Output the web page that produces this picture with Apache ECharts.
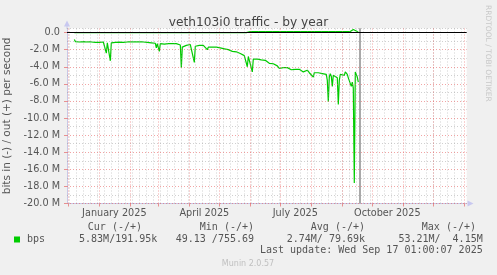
<!DOCTYPE html>
<html><head><meta charset="utf-8">
<script src="https://cdn.jsdelivr.net/npm/echarts@6/dist/echarts.min.js"></script>
<style>html,body{margin:0;padding:0;background:#f0f0f0}#c{width:497px;height:275px}</style>
</head><body><div id="c"></div><script>
// ---- data (values in M bits/s; in = negative, out = positive) ----
const dates = ['2024-12-07','2024-12-08','2024-12-10','2024-12-12','2024-12-14','2024-12-16','2024-12-18','2024-12-20','2024-12-22','2024-12-24','2024-12-26','2024-12-28','2024-12-30',
'2025-01-01','2025-01-03','2025-01-05','2025-01-07','2025-01-08','2025-01-09','2025-01-11','2025-01-12','2025-01-13','2025-01-15','2025-01-17','2025-01-19','2025-01-21','2025-01-23','2025-01-25','2025-01-27','2025-01-29','2025-01-31',
'2025-02-02','2025-02-04','2025-02-06','2025-02-08','2025-02-10','2025-02-12','2025-02-14','2025-02-16','2025-02-18','2025-02-20','2025-02-22','2025-02-24','2025-02-26','2025-02-27','2025-02-28',
'2025-03-02','2025-03-03','2025-03-05','2025-03-07','2025-03-09','2025-03-11','2025-03-13','2025-03-15','2025-03-17','2025-03-19','2025-03-21','2025-03-23','2025-03-24','2025-03-25','2025-03-27','2025-03-29','2025-03-31',
'2025-04-02','2025-04-04','2025-04-06','2025-04-07','2025-04-09','2025-04-11','2025-04-13','2025-04-15','2025-04-17','2025-04-19','2025-04-20','2025-04-22','2025-04-24','2025-04-26','2025-04-28','2025-04-30',
'2025-05-02','2025-05-04','2025-05-06','2025-05-08','2025-05-10','2025-05-12','2025-05-14','2025-05-16','2025-05-18','2025-05-20','2025-05-22','2025-05-24','2025-05-26','2025-05-28','2025-05-29','2025-05-30',
'2025-06-01','2025-06-03','2025-06-04','2025-06-06','2025-06-08','2025-06-10','2025-06-12','2025-06-14','2025-06-16','2025-06-18','2025-06-20','2025-06-22','2025-06-24','2025-06-26','2025-06-28','2025-06-30',
'2025-07-02','2025-07-04','2025-07-06','2025-07-08','2025-07-10','2025-07-12','2025-07-14','2025-07-16','2025-07-18','2025-07-20','2025-07-22','2025-07-24','2025-07-26','2025-07-28','2025-07-30',
'2025-08-01','2025-08-03','2025-08-04','2025-08-06','2025-08-08','2025-08-10','2025-08-12','2025-08-14','2025-08-16','2025-08-17','2025-08-18','2025-08-19','2025-08-20','2025-08-21','2025-08-22','2025-08-23','2025-08-25','2025-08-27','2025-08-28','2025-08-29','2025-08-30',
'2025-09-01','2025-09-03','2025-09-04','2025-09-06','2025-09-07','2025-09-08','2025-09-09','2025-09-10','2025-09-11','2025-09-12','2025-09-13','2025-09-14','2025-09-16','2025-09-17'];
const inM = [-0.8,-1.05,-1.25,-1.1,-1.2,-1.05,-1.15,-1.1,-1.2,-1.1,-1.05,-1.15,-1.1,
-1.15,-1.1,-1.1,-1.2,-2.4,-1.2,-1.25,-3.3,-1.2,-1.1,-1.15,-1.1,-1.12,-1.1,-1.15,-1.1,-1.1,-1.15,
-1.1,-1.2,-1.1,-1.15,-1.1,-1.2,-1.1,-1.05,-1.15,-1.1,-1.2,-1.15,-1.25,-1.8,-1.3,
-2.2,-1.3,-1.2,-1.35,-1.25,-1.3,-1.2,-1.3,-1.35,-1.3,-1.4,-1.45,-4.1,-1.7,-1.65,-1.5,-1.45,
-1.4,-1.5,-3.5,-1.6,-1.45,-1.5,-1.55,-1.5,-1.6,-2.0,-1.7,-1.6,-1.7,-1.75,-1.7,-1.85,
-1.8,-1.95,-1.9,-2.05,-2.0,-2.15,-2.2,-2.3,-2.25,-2.4,-2.45,-2.6,-2.7,-2.8,-4.0,-2.8,
-3.0,-4.6,-3.1,-3.0,-3.1,-3.05,-3.2,-3.3,-3.25,-3.4,-3.6,-3.7,-3.65,-3.8,-3.9,-4.2,
-4.0,-4.1,-4.3,-4.1,-4.2,-4.35,-4.2,-4.3,-4.5,-4.3,-4.4,-4.6,-4.5,-4.4,-4.7,
-4.6,-5.2,-4.7,-4.8,-4.7,-4.9,-4.8,-5.0,-4.9,-5.6,-8.1,-5.2,-4.8,-5.1,-6.3,-5.0,-4.8,-5.3,-8.4,-5.6,-4.9,
-4.7,-5.0,-4.6,-4.9,-5.3,-5.1,-5.5,-6.3,-5.8,-6.5,-17.6,-4.6,-5.2,-5.8];
const outM = [0,0,0,0,0,0,0,0,0,0,0,0,0,
0,0,0,0,0,0,0,0,0,0,0,0,0,0,0,0,0,0,
0,0,0,0,0,0,0,0,0,0,0,0,0,0,0,
0,0,0,0,0,0,0,0,0,0,0,0,0,0,0,0,0,
0,0,0,0,0,0,0,0,0,0,0,0,0,0,0,0,
0,0,0,0,0,0,0,0,0,0,0,0,0,0,0,0.1,
0.12,0.12,0.12,0.12,0.12,0.12,0.12,0.12,0.12,0.12,0.12,0.12,0.12,0.12,0.12,0.12,
0.12,0.12,0.12,0.12,0.12,0.12,0.12,0.12,0.12,0.12,0.12,0.12,0.12,0.12,0.12,
0.12,0.12,0.12,0.12,0.12,0.12,0.12,0.12,0.12,0.12,0.12,0.12,0.12,0.12,0.12,0.12,0.12,0.12,0.12,0.12,0.12,
0.12,0.12,0.12,0.12,0.12,0.12,0.12,0.12,0.15,0.35,0.5,0.3,0.12,0.1];
const yMajor = [-20,-18,-16,-14,-12,-10,-8,-6,-4,-2];
const yMinor = [-19,-17,-15,-13,-11,-9,-7,-5,-3,-1];
const monthStarts = ['2024-12-01','2025-01-01','2025-02-01','2025-03-01','2025-04-01','2025-05-01','2025-06-01','2025-07-01','2025-08-01','2025-09-01','2025-10-01','2025-11-01','2025-12-01','2026-01-01'];
const labelDates = ['2025-01-16','2025-04-16','2025-07-16','2025-10-16'];
const labelTexts = ['January 2025','April 2025','July 2025','October 2025'];
const xStart = '2024-11-29T16:00:00', xEnd = '2026-01-03T10:00:00';
const nowLine = '2025-09-18T00:00:00';
const legendHead = ['Cur (-/+)','Min (-/+)','Avg (-/+)','Max (-/+)'];
const legendVals = ['5.83M/191.95k','49.13 /755.69','2.74M/ 79.69k','53.21M/  4.15M'];
const lastUpdate = 'Last update: Wed Sep 17 01:00:07 2025';

const T = s => Date.parse(s.length === 10 ? s + 'T00:00:00Z' : s + 'Z');
const M = 1e6;
// weekly minor grid (Mondays)
const weekLines = [];
for (let t = T('2024-12-02'); t < T(xEnd); t += 7 * 86400000) weekLines.push(t);
const labelTs = labelDates.map(T);
const monthTs = monthStarts.map(T);

const GREEN = '#00cc00';
const FONT = 'DejaVu Sans';
const MONO = 'DejaVu Sans Mono';
const ml = (arr, axis, color, type, w) => arr.map(v => ({ [axis]: v, lineStyle: { color, type, width: w } }));

const chart = echarts.init(document.getElementById('c'), null, { renderer: 'canvas' });
chart.setOption({
  backgroundColor: '#f0f0f0',
  animation: false,
  title: { text: 'veth103i0 traffic - by year', left: 'center', top: 12,
    textStyle: { fontFamily: FONT, fontSize: 12.2, fontWeight: 'normal', color: '#444' } },
  grid: { left: 67, right: 30.3, top: 28.3, bottom: 71.5, show: true, backgroundColor: '#ffffff', borderWidth: 0,
    containLabel: false, outerBoundsMode: 'none' },
  xAxis: {
    type: 'value', min: T(xStart), max: T(xEnd),
    axisLine: { onZero: false, lineStyle: { color: '#c8c8e6', width: 1 } },
    axisTick: { show: true, customValues: monthTs, length: 3, lineStyle: { color: '#e89090' } },
    splitLine: { show: false },
    axisLabel: { customValues: labelTs, margin: 5, color: '#555', fontFamily: FONT, fontSize: 9.7,
      formatter: v => { const i = labelTs.indexOf(v); return i >= 0 ? labelTexts[i] : ''; } }
  },
  yAxis: {
    type: 'value', min: -20 * M, max: 0.5 * M, interval: 2 * M,
    name: 'bits in (-) / out (+) per second', nameLocation: 'middle', nameGap: 50,
    nameTextStyle: { fontFamily: FONT, fontSize: 10.5, color: '#555' },
    axisLine: { show: true, lineStyle: { color: '#c8c8e6', width: 1 } },
    axisTick: { show: true, length: 3, lineStyle: { color: '#e89090' } },
    splitLine: { show: false },
    axisLabel: { showMaxLabel: false, margin: 7, color: '#555', fontFamily: FONT, fontSize: 9.7,
      formatter: v => v === 0 ? '0.0' : (v / M).toFixed(1) + ' M' }
  },
  series: [
    { type: 'line', name: 'grid', data: [], silent: true, z: 1, showSymbol: false,
      markLine: { silent: true, symbol: ['none', 'none'], label: { show: false }, animation: false,
        data: [].concat(
          ml(weekLines, 'xAxis', 'rgba(150,150,150,0.45)', [1, 2], 1),
          ml(yMinor.map(v => v * M), 'yAxis', 'rgba(150,150,150,0.45)', [1, 2], 1),
          ml([0.5 * M], 'yAxis', 'rgba(150,150,150,0.45)', [1, 2], 1),
          ml(monthTs, 'xAxis', 'rgba(230,90,90,0.55)', [1, 2], 1),
          ml(yMajor.map(v => v * M), 'yAxis', 'rgba(230,90,90,0.55)', [1, 2], 1)
        ) } },
    { type: 'line', name: 'now', data: [], silent: true, z: 2,
      markLine: { silent: true, symbol: ['none', 'none'], label: { show: false }, animation: false,
        data: [{ xAxis: T(nowLine), lineStyle: { color: '#8c8c8c', type: 'solid', width: 1.5 } }] } },
    { type: 'line', name: 'bps in', data: dates.map((d, i) => [T(d), inM[i] * M]), z: 3,
      showSymbol: false, symbol: 'none', lineStyle: { color: GREEN, width: 1.2 }, silent: true },
    { type: 'line', name: 'bps out', data: dates.map((d, i) => [T(d), outM[i] * M]), z: 3,
      showSymbol: false, symbol: 'none', lineStyle: { color: GREEN, width: 1.2 }, silent: true },
    { type: 'line', name: 'zero', data: [], silent: true, z: 4,
      markLine: { silent: true, symbol: ['none', 'none'], label: { show: false }, animation: false,
        data: [{ yAxis: 0, lineStyle: { color: '#000', type: 'solid', width: 1.2 } }] } }
  ],
  graphic: [
    { type: 'polygon', shape: { points: [[67, 20.5], [64, 26.5], [70, 26.5]] }, style: { fill: '#c8c8f0' } },
    { type: 'line', shape: { x1: 67, y1: 26, x2: 67, y2: 29 }, style: { stroke: '#c8c8e6', lineWidth: 1 } },
    { type: 'polygon', shape: { points: [[473.5, 203.5], [467.5, 200.5], [467.5, 206.5]] }, style: { fill: '#c8c8f0' } },
    { type: 'text', x: 488, y: 5, rotation: -Math.PI / 2,
      style: { text: 'RRDTOOL / TOBI OETIKER', font: '7.5px DejaVu Sans', fill: '#c8c8c8', textAlign: 'left', textVerticalAlign: 'middle' } },
    { type: 'rect', shape: { x: 14, y: 236.5, width: 6, height: 6 }, style: { fill: GREEN } },
    { type: 'text', x: 27, y: 239.5, style: { text: 'bps', font: '10px ' + MONO, fill: '#555', textVerticalAlign: 'middle' } },
    ...legendHead.map((s, i) => ({ type: 'text', x: [142, 254, 365, 476][i], y: 227.7,
      style: { text: s, font: '10px ' + MONO, fill: '#555', textAlign: 'right', textVerticalAlign: 'middle' } })),
    ...legendVals.map((s, i) => ({ type: 'text', x: [157.3, 254, 365, 482.7][i], y: 239.3,
      style: { text: s, font: '10px ' + MONO, fill: '#555', textAlign: 'right', textVerticalAlign: 'middle' } })),
    { type: 'text', x: 482.7, y: 250.7, style: { text: lastUpdate, font: '10px ' + MONO, fill: '#555', textAlign: 'right', textVerticalAlign: 'middle' } },
    { type: 'text', x: 248, y: 264, style: { text: 'Munin 2.0.57', font: '8px ' + FONT, fill: '#c0c0c0', textAlign: 'center', textVerticalAlign: 'middle' } }
  ]
});
</script></body></html>
